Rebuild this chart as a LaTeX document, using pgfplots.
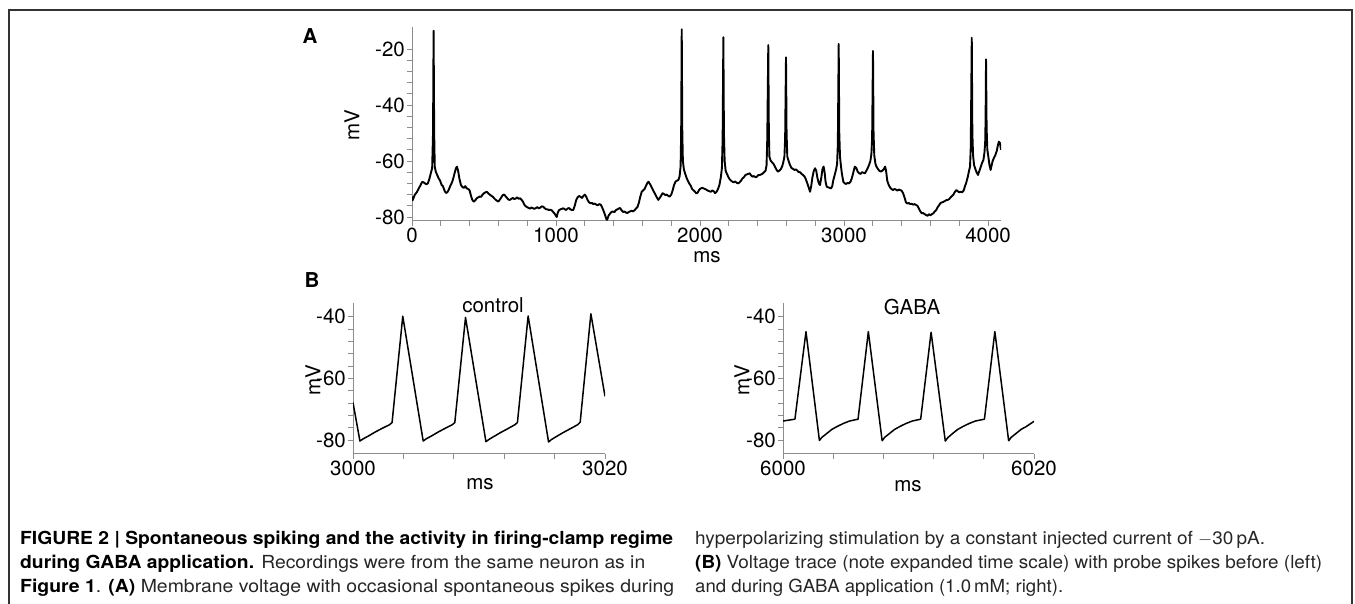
\documentclass[border=0pt]{standalone}
\usepackage{pgfplots}
\pgfplotsset{compat=1.18}
\usepackage{fontspec}
\setmainfont{TeX Gyre Heros}
\usepackage{graphicx}

\pgfplotstableread{
t v
0 -72.7
5 -74.0
12 -73.0
20 -72.0
30 -71.4
40 -70.5
50 -69.5
60 -68.6
70 -67.5
80 -67.6
90 -68.0
100 -68.3
110 -68.0
120 -66.5
130 -64.5
140 -62.5
146 -50
150 -13.5
154 -50
158 -62
165 -63.8
175 -65.0
185 -66.2
195 -67.0
205 -68.5
215 -69.0
225 -70.5
235 -71.4
245 -71.2
255 -70.3
265 -69.0
275 -68.0
285 -66.5
295 -64.5
305 -62.6
312 -62.0
320 -63.5
330 -66.5
340 -68.6
350 -69.3
360 -69.6
370 -69.0
380 -69.8
390 -70.0
400 -70.5
410 -72.5
420 -74.0
430 -74.5
440 -74.0
450 -73.3
460 -73.0
470 -72.7
480 -72.8
490 -72.0
500 -71.5
510 -71.2
520 -71.0
530 -71.6
540 -72.0
550 -72.4
560 -72.7
570 -73.3
580 -73.8
590 -74.2
600 -74.5
610 -73.8
620 -73.0
630 -72.2
640 -72.0
650 -72.6
660 -73.2
670 -73.8
680 -73.9
690 -73.5
700 -73.2
710 -73.6
720 -73.4
730 -73.0
740 -73.5
750 -73.3
760 -73.8
770 -74.5
780 -75.6
790 -76.2
800 -76.5
810 -76.8
820 -77.0
830 -76.6
840 -76.9
850 -77.1
860 -76.8
870 -76.5
880 -76.9
890 -76.7
900 -76.2
910 -76.3
920 -76.8
930 -77.2
940 -77.3
950 -77.5
960 -77.4
970 -77.6
980 -78.2
990 -78.8
1000 -79.6
1005 -80.0
1012 -78.5
1020 -77.6
1030 -77.3
1040 -77.1
1050 -76.9
1060 -77.2
1070 -77.5
1080 -77.0
1090 -76.8
1100 -77.3
1110 -77.5
1120 -77.5
1130 -76.0
1140 -74.0
1150 -73.0
1160 -72.5
1170 -72.8
1180 -73.2
1190 -72.5
1200 -72.0
1210 -72.8
1220 -74.0
1230 -74.8
1240 -75.1
1250 -75.0
1260 -75.4
1270 -75.2
1280 -75.6
1290 -75.8
1300 -75.4
1310 -75.6
1320 -76.5
1330 -77.8
1340 -79.2
1350 -80.8
1355 -81.0
1365 -79.5
1375 -78.8
1385 -78.2
1395 -78.0
1405 -78.3
1415 -77.6
1425 -77.3
1435 -77.0
1445 -76.8
1455 -77.6
1465 -78.2
1475 -78.0
1485 -78.4
1495 -78.6
1505 -78.2
1515 -78.0
1525 -77.8
1535 -78.0
1545 -77.6
1555 -77.0
1565 -76.5
1575 -75.0
1585 -72.8
1595 -71.0
1605 -70.5
1615 -70.0
1625 -68.8
1635 -67.8
1642 -67.4
1650 -68.0
1660 -69.0
1670 -70.0
1680 -71.0
1690 -72.0
1700 -73.0
1710 -73.9
1720 -73.2
1730 -72.4
1740 -71.5
1750 -71.8
1760 -72.2
1770 -72.0
1780 -72.5
1790 -72.7
1800 -72.0
1810 -70.5
1820 -68.5
1830 -67.4
1840 -67.0
1850 -66.8
1858 -65.5
1865 -62.0
1869 -50
1873 -13.0
1877 -50
1881 -60
1888 -63.0
1896 -64.4
1905 -65.8
1915 -67.0
1925 -68.0
1935 -68.8
1945 -70.0
1955 -70.5
1965 -71.0
1975 -71.6
1985 -71.2
1995 -70.2
2005 -69.8
2015 -69.6
2025 -69.8
2035 -70.0
2045 -70.3
2055 -70.6
2065 -70.8
2075 -71.0
2085 -70.5
2095 -70.8
2105 -71.5
2115 -71.0
2125 -70.0
2135 -68.5
2145 -65.6
2152 -62.5
2157 -52
2162 -15.8
2166 -50
2171 -60
2178 -63.5
2185 -64.4
2195 -65.5
2205 -66.5
2215 -67.0
2225 -67.4
2235 -67.6
2245 -67.3
2255 -67.8
2265 -68.0
2275 -67.6
2285 -67.0
2295 -66.2
2305 -65.8
2315 -65.0
2325 -64.8
2335 -64.6
2345 -64.4
2355 -65.2
2365 -65.6
2375 -65.4
2385 -65.8
2395 -65.6
2405 -65.0
2415 -65.0
2425 -64.8
2435 -64.5
2445 -64.0
2455 -63.5
2462 -61.5
2467 -52
2474 -18.6
2478 -50
2482 -58.5
2490 -59.8
2500 -60.5
2510 -61.0
2520 -62.0
2530 -63.0
2540 -63.8
2550 -63.5
2560 -63.0
2570 -62.0
2578 -60.5
2586 -58.5
2591 -52
2597 -23.0
2601 -50
2606 -58.4
2615 -60.0
2625 -61.5
2635 -62.5
2645 -62.8
2655 -63.2
2665 -63.0
2675 -63.4
2685 -64.0
2695 -64.0
2705 -64.6
2715 -65.0
2725 -65.5
2735 -66.5
2745 -68.0
2755 -69.5
2764 -71.0
2772 -69.0
2780 -66.0
2790 -63.5
2799 -62.6
2807 -63.5
2815 -66.0
2825 -68.0
2833 -68.6
2842 -66.0
2850 -63.0
2858 -62.0
2865 -64.0
2872 -67.5
2880 -69.2
2890 -69.4
2900 -69.6
2910 -69.8
2918 -69.0
2925 -67.0
2935 -65.0
2945 -63.0
2952 -61.0
2957 -54
2963 -18.2
2967 -50
2972 -58.5
2978 -61.5
2985 -64.5
2995 -67.4
3005 -68.0
3015 -68.2
3025 -67.8
3035 -68.0
3045 -67.4
3055 -66.0
3065 -64.0
3075 -62.0
3085 -62.5
3095 -63.8
3105 -64.4
3115 -64.6
3125 -64.0
3135 -64.2
3145 -64.4
3155 -63.5
3165 -62.5
3175 -61.2
3183 -60.0
3190 -57.5
3195 -52
3201 -20.7
3205 -50
3210 -58
3218 -61.0
3225 -62.0
3235 -62.8
3245 -63.5
3255 -63.8
3265 -63.5
3275 -63.0
3285 -62.0
3292 -63.5
3300 -67.0
3310 -68.5
3320 -69.5
3330 -70.0
3340 -70.4
3350 -70.0
3360 -70.2
3370 -70.6
3380 -70.2
3390 -70.4
3400 -70.6
3410 -71.5
3420 -73.0
3430 -74.8
3440 -75.2
3450 -75.0
3460 -75.4
3470 -75.3
3480 -75.6
3490 -75.4
3500 -75.7
3510 -76.0
3520 -77.0
3530 -78.0
3540 -78.7
3550 -78.6
3560 -79.0
3570 -79.3
3580 -79.6
3590 -79.0
3600 -79.4
3610 -79.0
3620 -78.7
3630 -78.0
3640 -77.5
3650 -76.5
3660 -75.8
3670 -75.0
3680 -74.8
3690 -74.6
3700 -74.3
3710 -74.0
3720 -73.9
3730 -73.6
3740 -73.0
3750 -72.5
3760 -72.0
3770 -71.0
3780 -70.4
3790 -70.8
3800 -71.2
3810 -71.0
3820 -71.2
3830 -70.6
3840 -69.0
3850 -67.5
3860 -65.5
3868 -63.5
3875 -62.0
3880 -55
3887 -16.0
3891 -50
3896 -58
3903 -61.5
3910 -62.6
3920 -64.0
3930 -65.0
3940 -63.5
3950 -62.0
3960 -60.5
3968 -59.6
3975 -57.0
3980 -53.6
3983 -45
3986 -23.7
3990 -48
3995 -56
4002 -58.4
4010 -61.5
4018 -63.2
4025 -61.5
4032 -60.0
4040 -59.0
4050 -58.0
4060 -56.5
4068 -54.5
4075 -53.1
4082 -53.5
4090 -56.0
}\traceA

\pgfplotstableread{
t v
3000 -67.8
3000.55 -80.3
3000.8 -79.6
3001.25 -78.6
3001.75 -77.4
3002.3 -76.2
3002.9 -75.0
3003.1 -74.3
3003.95 -39.8
3005.57 -80.3
3005.8 -79.6
3006.25 -78.6
3006.75 -77.4
3007.3 -76.2
3007.88 -75.0
3008.08 -74.3
3008.93 -40.2
3010.55 -80.5
3010.78 -79.8
3011.23 -78.7
3011.73 -77.5
3012.28 -76.3
3012.85 -75.0
3013.05 -74.3
3013.9 -39.7
3015.52 -80.6
3015.75 -79.8
3016.2 -78.7
3016.7 -77.5
3017.25 -76.3
3017.83 -75.0
3018.03 -74.2
3018.88 -39.0
3020 -65.8
}\traceControl

\pgfplotstableread{
t v
6000 -73.8
6000.95 -73.2
6001.83 -44.8
6002.9 -80.1
6003.1 -79.1
6003.5 -77.8
6003.9 -76.5
6004.3 -75.6
6004.8 -74.6
6005.3 -73.8
6005.98 -73.2
6006.8 -44.8
6007.9 -80.2
6008.1 -79.1
6008.5 -77.8
6008.9 -76.5
6009.3 -75.6
6009.8 -74.6
6010.3 -73.8
6010.97 -73.2
6011.8 -45.0
6012.93 -80.3
6013.13 -79.2
6013.53 -77.8
6013.93 -76.5
6014.33 -75.6
6014.83 -74.6
6015.33 -73.8
6016.05 -73.2
6016.88 -44.8
6017.98 -80.2
6018.18 -79.1
6018.58 -77.8
6018.98 -76.5
6019.38 -75.6
6020 -73.9
}\traceGABA

\begin{document}
\begin{tikzpicture}[x=1pt,y=1pt]
\useasboundingbox (0,0) rectangle (1355,604);
\draw[line width=1.6pt, black!80] (9,0) -- (9,594) -- (1352,594) -- (1352,0);

\pgfplotsset{
  ephys/.style={
    scale only axis,
    axis x line*=bottom, axis y line*=left,
    axis line style={black!45, line width=1pt},
    tick style={black!45, line width=0.8pt},
    major tick length=5pt, minor tick length=5pt,
    tick align=outside,
    tick label style={font=\fontsize{20.5}{20.5}\selectfont, black},
    xticklabel style={inner sep=2pt},
    yticklabel style={inner sep=2pt},
  }
}

% Panel A
\begin{axis}[ephys, at={(412pt,383pt)}, anchor=south west,
  width=589pt, height=194pt,
  xmin=0, xmax=4090, ymin=-81.43, ymax=-12.14,
  xtick={0,1000,2000,3000,4000}, xticklabels={0,1000,2000,3000,4000},
  minor x tick num=4,
  ytick={-80,-60,-40,-20}, yticklabels={-80,-60,-40,-20},
  minor y tick num=4]
\addplot[black, line width=1.9pt, line join=round] table[x=t,y=v] {\traceA};
\end{axis}

% Panel B left
\begin{axis}[ephys, at={(353pt,150pt)}, anchor=south west,
  width=252pt, height=151pt,
  xmin=3000, xmax=3020, ymin=-84.5, ymax=-35.5,
  xtick={3000,3020}, xticklabels={3000,3020},
  minor xtick={3004,3008,3012,3016},
  ytick={-80,-60,-40}, yticklabels={-80,-60,-40},
  minor y tick num=4]
\addplot[black, line width=1.5pt, line join=round] table[x=t,y=v] {\traceControl};
\end{axis}

% Panel B right
\begin{axis}[ephys, at={(783pt,150pt)}, anchor=south west,
  width=251pt, height=151pt,
  xmin=6000, xmax=6020, ymin=-84.5, ymax=-35.5,
  xtick={6000,6020}, xticklabels={6000,6020},
  minor xtick={6004,6008,6012,6016},
  ytick={-80,-60,-40}, yticklabels={-80,-60,-40},
  minor y tick num=4]
\addplot[black, line width=1.5pt, line join=round] table[x=t,y=v] {\traceGABA};
\end{axis}

\begin{scope}[every node/.style={font=\fontsize{20.5}{20.5}\selectfont, inner sep=0pt}]
\node at (310,568) {\textbf{A}};
\node at (312,324) {\textbf{B}};
\node[rotate=90] at (352,479) {mV};
\node at (707,347) {ms};
\node at (493,299) {control};
\node[rotate=90] at (313,224) {mV};
\node at (480,120) {ms};
\node at (912,297) {GABA};
\node[rotate=90] at (742,224) {mV};
\node at (908,118) {ms};
\end{scope}

\begin{scope}[every node/.style={font=\fontsize{18}{18}\selectfont, inner sep=0pt, anchor=base west, text=black!85}]
\node at (20,59) {\resizebox{653pt}{\height}{\textbf{\color{black}FIGURE 2 | Spontaneous spiking and the activity in firing-clamp regime}}};
\node at (20,35) {\resizebox{625pt}{\height}{\textbf{\color{black}during GABA application.} Recordings were from the same neuron as in}};
\node at (20,11) {\resizebox{654pt}{\height}{\textbf{\color{black}Figure 1}. \textbf{\color{black}(A)} Membrane voltage with occasional spontaneous spikes during}};
\node at (695,59) {\resizebox{570pt}{\height}{hyperpolarizing stimulation by a constant injected current of $-$30\,pA.}};
\node at (695,35) {\resizebox{627pt}{\height}{\textbf{\color{black}(B)} Voltage trace (note expanded time scale) with probe spikes before (left)}};
\node at (695,11) {\resizebox{368pt}{\height}{and during GABA application (1.0\,mM; right).}};
\end{scope}
\end{tikzpicture}
\end{document}
